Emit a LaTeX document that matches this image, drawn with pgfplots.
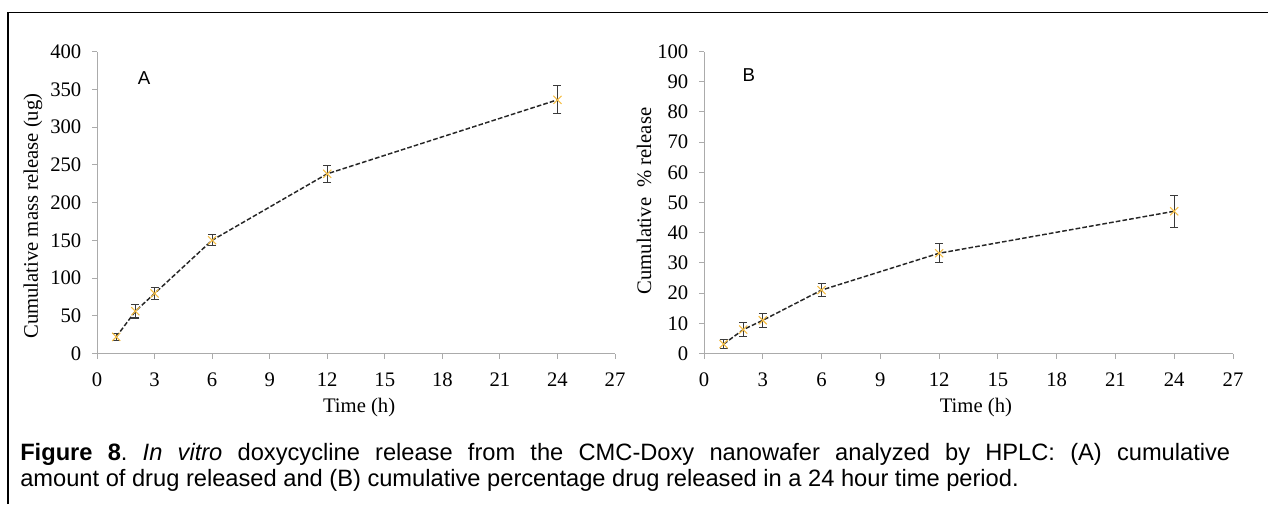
\documentclass[border=0pt]{standalone}
\usepackage{fontspec}
\setmainfont{Liberation Serif}
\setsansfont{Liberation Sans}
\usepackage{pgfplots}
\pgfplotsset{compat=1.18}
\usepackage{pgfplotstable}

\definecolor{axisgray}{HTML}{ABABAB}
\definecolor{barcol}{HTML}{3A3A3A}
\definecolor{linecol}{HTML}{262626}
\definecolor{markcol}{HTML}{F5BE45}

% cumulative mass released (ug): time, mean, sd
\pgfplotstableread{
t m e
1 22 5
2 56 9
3 79.5 8
6 150 7.5
12 238 11
24 336 18.5
}\massdata

% cumulative percentage released: time, mean, sd
\pgfplotstableread{
t p e
1 3.1 1.4
2 7.9 2.4
3 11 2.3
6 21 2.2
12 33.2 3.1
24 47.1 5.3
}\pctdata

\pgfplotsset{
  releaseaxis/.style={
    scale only axis,
    height=226.5pt,
    xmin=0, xmax=27,
    xtick={0,3,...,27},
    axis x line=bottom, axis y line=left,
    axis line style={-, draw=axisgray, line width=0.7pt},
    tick style={draw=axisgray, line width=0.7pt},
    tick align=outside,
    major tick length=3.75pt,
    /pgf/number format/assume math mode=true,
    tick label style={font=\fontsize{15.5}{17}\selectfont, text=black},
    xticklabel style={yshift=-7.5pt},
    yticklabel style={xshift=-4.5pt},
    label style={font=\fontsize{15.5}{17}\selectfont},
    xlabel={Time (h)},
    clip=false,
  },
  releaseplot/.style={
    color=linecol, line width=1.1pt,
    dash pattern=on 3.5pt off 1.6pt,
    mark=x, mark size=4.3pt,
    mark options={solid, draw=markcol, line width=0.8pt},
    error bars/.cd, y dir=both, y explicit,
      error bar style={solid, draw=barcol, line width=0.8pt},
      error mark options={rotate=90, mark size=3pt, draw=barcol, line width=0.8pt},
  },
}

\begin{document}
\frenchspacing
\begin{tikzpicture}
\path[use as bounding box] (0pt,0pt) rectangle (951pt,-378pt);
\draw[line width=1.1pt, black] (6pt,-378pt) -- (6pt,-9.4pt) -- (951pt,-9.4pt);

% (A) cumulative mass released
\begin{axis}[releaseaxis,
  at={(72.75pt,-265.125pt)}, anchor=south west,
  width=388.5pt,
  ymin=0, ymax=400, ytick={0,50,...,400},
  ylabel={Cumulative mass release (ug)},
  ylabel style={at={(axis description cs:-0.1236,0.455)}, anchor=center},
  xlabel style={at={(axis description cs:0.506,-0.18)}, anchor=center},
]
\addplot+[releaseplot] table[x=t, y=m, y error=e] {\massdata};
\node[font=\sffamily\fontsize{14}{16}\selectfont] at (axis description cs:0.0907,0.912) {A};
\end{axis}

% (B) cumulative percentage released
\begin{axis}[releaseaxis,
  at={(528pt,-265.125pt)}, anchor=south west,
  width=396.75pt,
  ymin=0, ymax=100, ytick={0,10,...,100},
  ylabel={Cumulative \ \% release},
  ylabel style={at={(axis description cs:-0.1134,0.505)}, anchor=center},
  xlabel style={at={(axis description cs:0.514,-0.18)}, anchor=center},
]
\addplot+[releaseplot] table[x=t, y=p, y error=e] {\pctdata};
\node[font=\sffamily\fontsize{14}{16}\selectfont] at (axis description cs:0.085,0.922) {B};
\end{axis}

% caption: first line set full measure, second line ragged
\node[anchor=base west, font=\sffamily\fontsize{17.75}{19.5}\selectfont, align=left, inner sep=0pt]
  at (15pt,-364.5pt)
  {\makebox[907.5pt][s]{\textbf{Figure 8}. \textit{In vitro} doxycycline release from the CMC-Doxy nanowafer analyzed by HPLC: (A) cumulative}\\
   amount of drug released and (B) cumulative percentage drug released in a 24 hour time period.};
\end{tikzpicture}
\end{document}
